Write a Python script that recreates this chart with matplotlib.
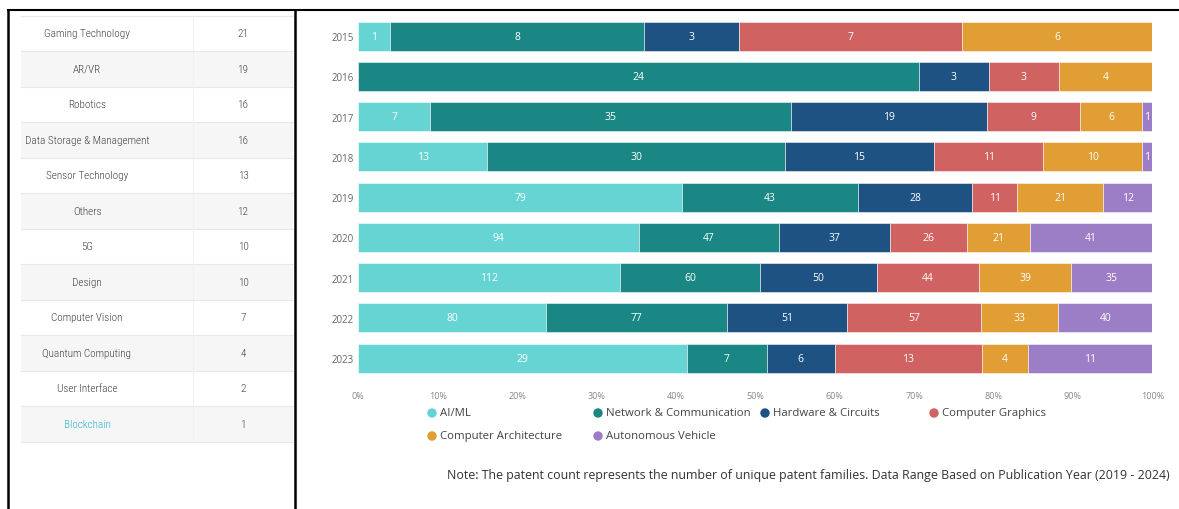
import matplotlib
matplotlib.use("Agg")
import matplotlib.pyplot as plt
from matplotlib import font_manager as fm
import numpy as np

# ---------------- data ----------------
years = ["2015", "2016", "2017", "2018", "2019", "2020", "2021", "2022", "2023"]
series_names = ["AI/ML", "Network & Communication", "Hardware & Circuits",
                "Computer Graphics", "Computer Architecture", "Autonomous Vehicle"]
ai_ml = [1, 0, 7, 13, 79, 94, 112, 80, 29]
network = [8, 24, 35, 30, 43, 47, 60, 77, 7]
hardware = [3, 3, 19, 15, 28, 37, 50, 51, 6]
graphics = [7, 3, 9, 11, 11, 26, 44, 57, 13]
architecture = [6, 4, 6, 10, 21, 21, 39, 33, 4]
autonomous = [0, 0, 1, 1, 12, 41, 35, 40, 11]
series_colors = ["#67D4D4", "#1A8784", "#1D5282", "#D06262", "#E09E34", "#9B7EC6"]
x_ticks = [0, 10, 20, 30, 40, 50, 60, 70, 80, 90, 100]

tech_names = ["Gaming Technology", "AR/VR", "Robotics", "Data Storage & Management",
              "Sensor Technology", "Others", "5G", "Design", "Computer Vision",
              "Quantum Computing", "User Interface", "Blockchain"]
tech_counts = [21, 19, 16, 16, 13, 12, 10, 10, 7, 4, 2, 1]

note_text = ("Note: The patent count represents the number of unique patent families. "
             "Data Range Based on Publication Year (2019 - 2024)")

# ---------------- fonts ----------------
plt.rcParams['font.family'] = ['Open Sans', 'DejaVu Sans']
names = {f.name for f in fm.fontManager.ttflist}
if 'Roboto Condensed' in names:
    cond_fp = fm.FontProperties(family='Roboto Condensed', weight='light')
    cond_size = 8
elif 'Liberation Sans Narrow' in names:
    cond_fp = fm.FontProperties(family='Liberation Sans Narrow')
    cond_size = 7.5
elif any(f.name == 'DejaVu Sans' and 'condensed' in str(f.stretch) for f in fm.fontManager.ttflist):
    cond_fp = fm.FontProperties(family='DejaVu Sans', stretch='condensed')
    cond_size = 6.5
else:
    cond_fp = fm.FontProperties(family='Roboto')
    cond_size = 6.5

W, H = 1179, 510
fig = plt.figure(figsize=(W / 100, H / 100), dpi=100)
fig.patch.set_facecolor('white')

# overlay axes in pixel coordinates
ov = fig.add_axes([0, 0, 1, 1])
ov.set_xlim(0, W)
ov.set_ylim(H, 0)
ov.axis('off')

# frame lines
ov.plot([7, W], [10.5, 10.5], color='black', lw=1.5, solid_capstyle='butt')
ov.plot([7.5, 7.5], [10.5, H], color='black', lw=1.8)
ov.plot([295, 295], [10.5, H], color='black', lw=1.8)

# table
row_top = 16.5
row_h = 35.5
for i, (name, cnt) in enumerate(zip(tech_names, tech_counts)):
    top = row_top + i * row_h
    if i % 2 == 1:
        ov.add_patch(plt.Rectangle((21, top), 272, row_h, facecolor='#f6f6f6',
                                   edgecolor='none', zorder=0))
    cy = top + row_h / 2
    color = '#29B4C8' if name == 'Blockchain' else '#404040'
    ov.text(87, cy, name, ha='center', va='center', color=color,
            fontproperties=cond_fp, fontsize=cond_size)
    ov.text(243, cy, str(cnt), ha='center', va='center', color='#404040',
            fontproperties=cond_fp, fontsize=cond_size)
for i in range(len(tech_names) + 1):
    y = row_top + i * row_h
    ov.plot([21, 293], [y, y], color='#e8e8e8', lw=0.8, zorder=1)
ov.plot([193, 193], [row_top, row_top + len(tech_names) * row_h], color='#f0f0f0', lw=0.8, zorder=1)

# ---------------- stacked bar chart ----------------
left_px, right_px = 358.3, 1152.3
top_px, bot_px = 17.1, 379.3
ax = fig.add_axes([left_px / W, (H - bot_px) / H, (right_px - left_px) / W, (bot_px - top_px) / H])
data = np.array([ai_ml, network, hardware, graphics, architecture, autonomous], dtype=float)
totals = data.sum(axis=0)
pct = data / totals * 100
ypos = np.arange(len(years))
left = np.zeros(len(years))
for k in range(len(series_names)):
    ax.barh(ypos, pct[k], left=left, height=0.72, color=series_colors[k],
            edgecolor=(1, 1, 1, 0.6), linewidth=0.6)
    for j in range(len(years)):
        if data[k, j] > 0:
            ax.text(left[j] + pct[k, j] / 2, ypos[j], str(int(data[k, j])),
                    ha='center', va='center', color='white', fontsize=7.5)
    left += pct[k]

ax.set_xlim(0, 100)
ax.set_ylim(len(years) - 0.5, -0.5)
ax.set_yticks(ypos)
ax.set_yticklabels(years)
ax.set_xticks(x_ticks)
ax.set_xticklabels([f"{t}%" for t in x_ticks])
ax.tick_params(axis='y', length=0, pad=3, labelsize=7, labelcolor='#666666')
ax.tick_params(axis='x', length=0, pad=9, labelsize=6.5, labelcolor='#888888')
for s in ax.spines.values():
    s.set_visible(False)

# legend (manual layout)
legend_pos = [(432, 414), (598, 414), (765, 414), (934, 414), (432, 437), (598, 437)]
for (lx, ly), nm, col in zip(legend_pos, series_names, series_colors):
    ov.scatter([lx], [ly], s=46, color=col, edgecolors='none', zorder=3)
    ov.text(lx + 8, ly, nm, ha='left', va='center', fontsize=8.2, color='#444444')

ov.text(447, 476, note_text, ha='left', va='center', fontsize=8.9, color='#333333')

fig.savefig('out.png', dpi=100, facecolor='white')
